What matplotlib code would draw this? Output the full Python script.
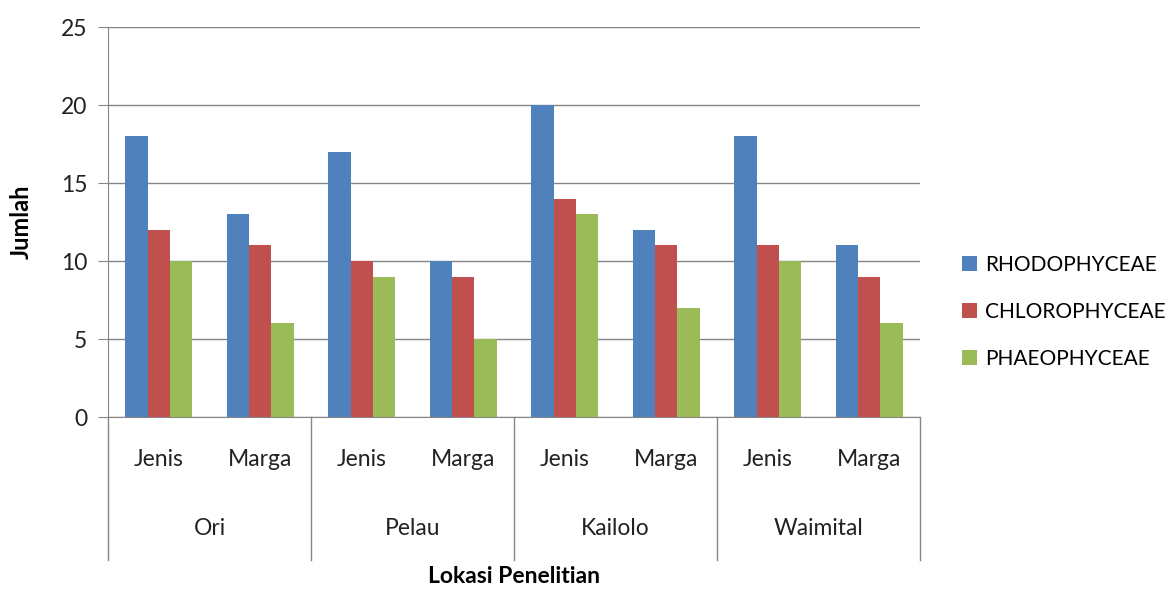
import matplotlib.pyplot as plt
import numpy as np

plt.rcParams["font.family"] = ["Lato", "DejaVu Sans"]

locations = ["Ori", "Pelau", "Kailolo", "Waimital"]
levels = ["Jenis", "Marga"]
series = ["RHODOPHYCEAE", "CHLOROPHYCEAE", "PHAEOPHYCEAE"]
colors = ["#4F81BD", "#C0504D", "#9BBB59"]

# values ordered Ori-Jenis, Ori-Marga, Pelau-Jenis, ... Waimital-Marga
rhodophyceae = [18, 13, 17, 10, 20, 12, 18, 11]
chlorophyceae = [12, 11, 10, 9, 14, 11, 11, 9]
phaeophyceae = [10, 6, 9, 5, 13, 7, 10, 6]


def main():
    fig = plt.figure(figsize=(11.75, 5.89), dpi=100)
    ax = fig.add_axes([0.092, 0.292, 0.691, 0.662])

    x = np.arange(len(rhodophyceae))
    width = 0.22
    for i, (vals, name, c) in enumerate(zip([rhodophyceae, chlorophyceae, phaeophyceae], series, colors)):
        ax.bar(x + (i - 1) * width, vals, width, color=c, label=name, zorder=3)

    grid_col = "#868686"
    txt_col = "#222222"
    ax.set_xlim(-0.5, len(x) - 0.5)
    ax.set_ylim(0, 25)
    ax.set_yticks(range(0, 26, 5))
    ax.yaxis.grid(True, color=grid_col, linewidth=1, zorder=0)
    ax.tick_params(axis="y", length=7, color=grid_col, labelsize=16.5, pad=8, labelcolor=txt_col)
    ax.tick_params(axis="x", length=0)
    ax.set_xticks([])
    for s in ["top", "right"]:
        ax.spines[s].set_visible(False)
    ax.spines["left"].set_color(grid_col)
    ax.spines["bottom"].set_color(grid_col)

    # two-level category labels with separators
    trans = ax.get_xaxis_transform()
    for xi in x:
        ax.text(xi, -0.108, levels[xi % 2], transform=trans, ha="center", va="center",
                fontsize=16.5, color=txt_col)
    for j, loc in enumerate(locations):
        ax.text(2 * j + 0.5, -0.287, loc, transform=trans, ha="center", va="center",
                fontsize=16.5, color=txt_col)
    for b in np.arange(-0.5, len(x), 2):
        ax.plot([b, b], [0, -0.367], transform=trans, color=grid_col, linewidth=1, clip_on=False)

    ax.set_ylabel("Jumlah", fontsize=17, fontweight="bold", color="black")
    ax.yaxis.set_label_coords(-0.093, 0.5)
    ax.set_xlabel("Lokasi Penelitian", fontsize=16.5, fontweight="bold", va="center", color="black")
    ax.xaxis.set_label_coords(0.5, -0.408)

    ax.legend(loc="center left", bbox_to_anchor=(1.042, 0.27), frameon=False, fontsize=15,
              handlelength=0.7, handleheight=0.7, handletextpad=0.4, labelspacing=1.3,
              borderaxespad=0)

    plt.savefig("out.png", dpi=100)


if __name__ == "__main__":
    main()
